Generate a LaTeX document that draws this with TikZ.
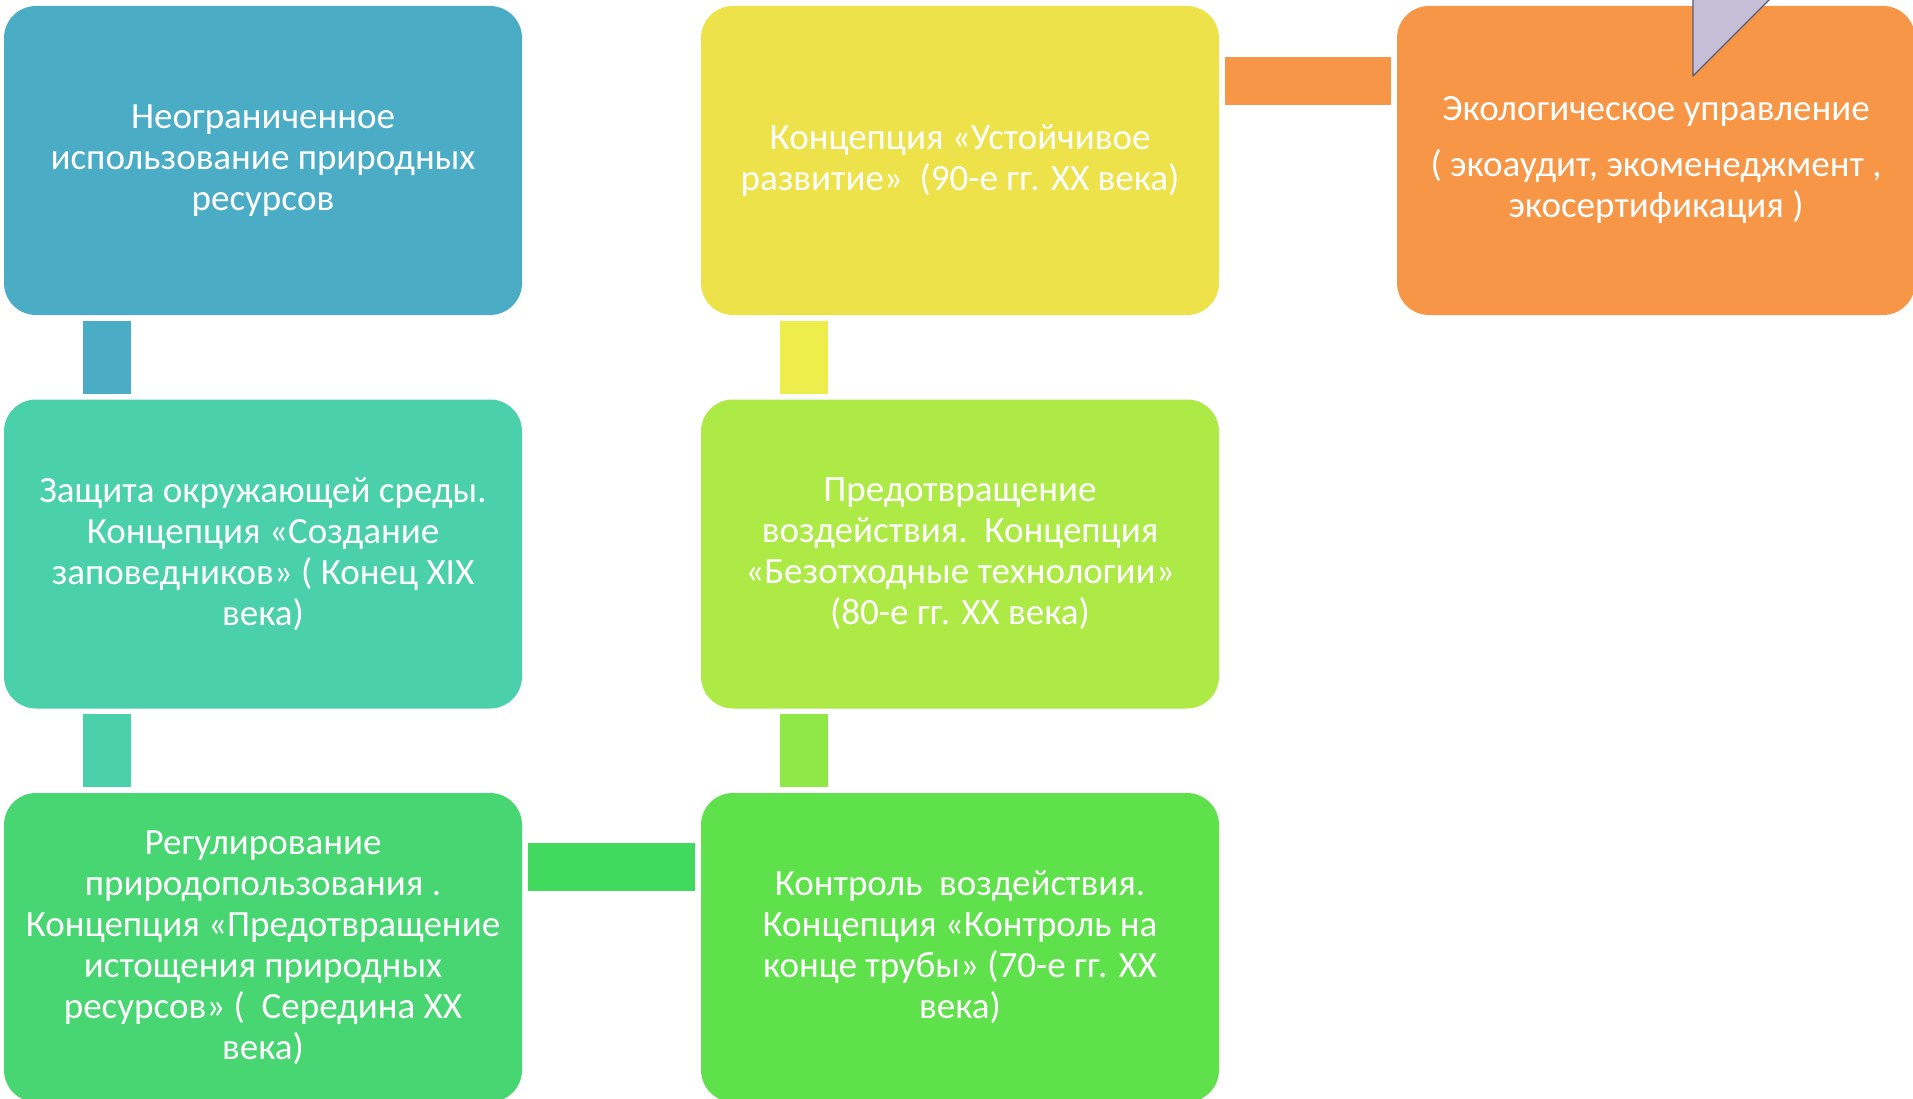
\documentclass[tikz,border=0pt]{standalone}
\usepackage{fontspec}
\setmainfont{Carlito}
\usepackage{tikz}
\usetikzlibrary{calc}

\definecolor{cBlue}{HTML}{4BACC6}
\definecolor{cTeal}{HTML}{4BD0AC}
\definecolor{cGreen}{HTML}{48D672}
\definecolor{cGreenBar}{HTML}{42DA5E}
\definecolor{cLeaf}{HTML}{5FE14B}
\definecolor{cLimeBar}{HTML}{90E748}
\definecolor{cLime}{HTML}{AEEA46}
\definecolor{cYellowBar}{HTML}{EDEE4B}
\definecolor{cYellow}{HTML}{EEE24A}
\definecolor{cOrange}{HTML}{F79646}
\definecolor{cLilac}{HTML}{C6BFDA}
\definecolor{cLilacLine}{HTML}{5B5B70}

\tikzset{
  stage/.style={rectangle, rounded corners=32pt, minimum width=518pt, minimum height=309pt,
    inner sep=0pt, align=center, text=white, font=\fontsize{37}{41}\selectfont},
  bar/.style={line width=48pt, shorten <=5.5pt, shorten >=5.5pt}
}

\begin{document}
\begin{tikzpicture}[x=1pt,y=1pt,yscale=-1,xscale=1]
\useasboundingbox (0,0) rectangle (1913,1099);

%Shape: Rounded Rect
\node (unlim) [stage, fill=cBlue] at (263,160.5) {Неограниченное\\использование природных\\ресурсов};
%Shape: Rounded Rect
\node (protect) [stage, fill=cTeal] at (263,554) {Защита окружающей среды.\\Концепция «Создание\\заповедников» ( Конец XIX\\века)};
%Shape: Rounded Rect
\node (regul) [stage, fill=cGreen] at (263,947.5) {Регулирование\\природопользования .\\Концепция «Предотвращение\\истощения природных\\ресурсов» (\ \ Середина XX\\века)};
%Shape: Rounded Rect
\node (control) [stage, fill=cLeaf] at (960,947.5) {Контроль\ \ воздействия.\\Концепция «Контроль на\\конце трубы» (70-е гг. XX\\века)};
%Shape: Rounded Rect
\node (prevent) [stage, fill=cLime] at (960,554) {Предотвращение\\воздействия.\ \ Концепция\\«Безотходные технологии»\\(80-е гг. XX века)};
%Shape: Rounded Rect
\node (sustain) [stage, fill=cYellow] at (960,160.5) {Концепция «Устойчивое\\развитие»\ \ (90-е гг. XX века)};
%Shape: Rounded Rect
\node (ecoman) [stage, fill=cOrange] at (1656,160.5) {Экологическое управление\\[15pt]( экоаудит, экоменеджмент ,\\экосертификация )};

%Straight Lines
\draw [bar, cBlue] ($(unlim.south west)+(103,0)$) -- ($(protect.north west)+(103,0)$);
%Straight Lines
\draw [bar, cTeal] ($(protect.south west)+(103,0)$) -- ($(regul.north west)+(103,0)$);
%Straight Lines
\draw [bar, cGreenBar] ($(regul.north east)+(0,74)$) -- ($(control.north west)+(0,74)$);
%Straight Lines
\draw [bar, cLimeBar] ($(control.north west)+(103,0)$) -- ($(prevent.south west)+(103,0)$);
%Straight Lines
\draw [bar, cYellowBar] ($(prevent.north west)+(103,0)$) -- ($(sustain.south west)+(103,0)$);
%Straight Lines
\draw [bar, cOrange] ($(sustain.north east)+(0,75)$) -- ($(ecoman.north west)+(0,75)$);

%Shape: Right Triangle
\draw [draw=cLilacLine, fill=cLilac, line width=1.2pt, line join=round] (1693,-10) -- (1693,76) -- (1779,-10) -- cycle;

\end{tikzpicture}
\end{document}
